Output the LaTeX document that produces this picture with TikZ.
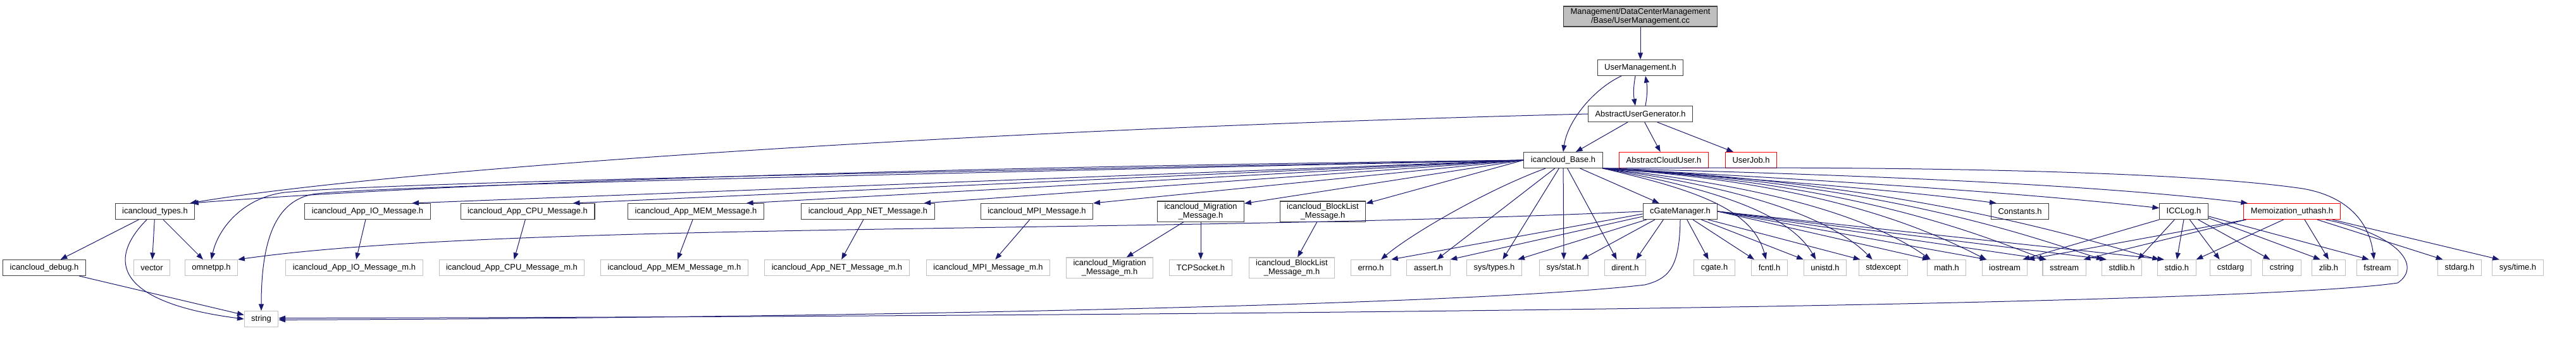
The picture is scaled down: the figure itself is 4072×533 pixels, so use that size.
\documentclass[tikz,border=0pt]{standalone}
\usepackage{fontspec}
\setmainfont{Liberation Sans}
\usetikzlibrary{arrows.meta,positioning}
\definecolor{edgeblue}{RGB}{25,25,112}
\definecolor{boxgray}{RGB}{64,64,64}
\definecolor{sysgray}{RGB}{191,191,191}
\definecolor{rootfill}{RGB}{191,191,191}

\begin{document}
\begin{tikzpicture}[x=0.75pt, y=-0.75pt,
    file/.style={draw, rectangle, font=\fontsize{9.7}{11}\selectfont, inner xsep=8.3pt, inner ysep=2pt, minimum height=18.75pt, align=center, text=black, line width=0.8pt},
    hdr/.style={file, draw=boxgray},
    sys/.style={file, draw=sysgray},
    ext/.style={file, draw=red},
    root/.style={hdr, fill=rootfill},
    dep/.style={edgeblue, line width=0.75pt, -{Triangle[length=8pt,width=6pt]}},
]
    \useasboundingbox (0,0) rectangle (4072,533);
    % Source file and the headers above icancloud_Base.h
    \node[root] (cc) at (2593,26) {Management/DataCenterManagement\\/Base/UserManagement.cc};
    \node[hdr] (um) at (2593,107) {UserManagement.h};
    \node[hdr] (aug) at (2593,180) {AbstractUserGenerator.h};
    \node[hdr] (base) at (2471,253) {icancloud\_Base.h};
    \node[ext] (acu) at (2630,253) {AbstractCloudUser.h};
    \node[ext] (job) at (2768,253) {UserJob.h};
    % Middle row
    \node[hdr] (types) at (245,334) {icancloud\_types.h};
    \node[hdr] (io) at (581,334) {icancloud\_App\_IO\_Message.h};
    \node[hdr] (cpu) at (834,334) {icancloud\_App\_CPU\_Message.h};
    \node[hdr] (mem) at (1100,334) {icancloud\_App\_MEM\_Message.h};
    \node[hdr] (net) at (1372,334) {icancloud\_App\_NET\_Message.h};
    \node[hdr] (mpi) at (1639,334) {icancloud\_MPI\_Message.h};
    \node[hdr] (mig) at (1898,334) {icancloud\_Migration\\\_Message.h};
    \node[hdr] (blk) at (2091,334) {icancloud\_BlockList\\\_Message.h};
    \node[hdr] (cgm) at (2656,334) {cGateManager.h};
    \node[hdr] (const) at (3193,334) {Constants.h};
    \node[hdr] (icc) at (3452,334) {ICCLog.h};
    \node[ext] (memo) at (3623,334) {Memoization\_uthash.h};
    % Bottom row
    \node[hdr] (debug) at (70,423) {icancloud\_debug.h};
    \foreach \n/\x/\t in {vector/240/vector, omnet/334/omnetpp.h,
        iom/560/{icancloud\_App\_IO\_Message\_m.h}, cpum/809/{icancloud\_App\_CPU\_Message\_m.h},
        memm/1066/{icancloud\_App\_MEM\_Message\_m.h}, netm/1323/{icancloud\_App\_NET\_Message\_m.h},
        mpim/1562/{icancloud\_MPI\_Message\_m.h}, migm/1754/{icancloud\_Migration\\\_Message\_m.h},
        tcp/1898/TCPSocket.h, blkm/2042/{icancloud\_BlockList\\\_Message\_m.h},
        errno/2167/errno.h, assert/2258/assert.h, systypes/2362/{sys/types.h},
        sysstat/2472/{sys/stat.h}, dirent/2569/dirent.h, cgate/2710/cgate.h,
        fcntl/2797/fcntl.h, unistd/2885/unistd.h, stdexcept/2977/stdexcept,
        math/3077/math.h, iostream/3169/iostream, sstream/3263/sstream,
        stdlib/3354/stdlib.h, stdio/3441/stdio.h, cstdarg/3526/cstdarg,
        cstring/3607/cstring, zlib/3681/zlib.h, fstream/3758/fstream,
        stdarg/3888/stdarg.h, systime/3980/{sys/time.h}}
        \node[sys] (\n) at (\x,423) {\t};
    \node[sys] (string) at (413,504) {string};

    % Upper part
    \draw[dep] (cc) -- (um);
    \draw[dep] ([xshift=-6pt]um.south) to[bend right=10] ([xshift=-6pt]aug.north);
    \draw[dep] ([xshift=6pt]aug.north) to[bend right=10] ([xshift=6pt]um.south);
    \draw[dep] ([xshift=-22.5pt]um.south) .. controls (2520,140) and (2478,190) .. (base.north);
    \draw[dep] ([xshift=-15pt]aug.south) -- ([xshift=15pt]base.north);
    \draw[dep] ([xshift=5pt]aug.south) -- ([xshift=-4pt]acu.north);
    \draw[dep] ([xshift=20pt]aug.south) -- ([xshift=-21pt]job.north);
    \draw[dep] (aug.west) .. controls (1500,205) and (600,270) .. ([xshift=-6pt]types.north east);

    % icancloud_Base.h to the left
    \draw[dep] (base.west) .. controls (1400,265) and (700,290) .. ([xshift=-4pt]types.north east);
    \draw[dep] (base.west) .. controls (1200,276) and (600,290) .. (450,304)
        .. controls (385,312) and (345,360) .. (omnet.north);
    \draw[dep] (base.west) .. controls (1200,280) and (620,294) .. (500,306)
        .. controls (440,314) and (413,370) .. (string.north);
    \draw[dep] (base.west) -- ([xshift=-22pt]io.north east);
    \draw[dep] (base.west) -- ([xshift=-26pt]cpu.north east);
    \draw[dep] (base.west) -- ([xshift=-21pt]mem.north east);
    \draw[dep] (base.west) -- ([xshift=-13pt]net.north east);
    \draw[dep] (base.west) -- (mpi.north east);
    \draw[dep] (base.west) -- ([yshift=-3pt]mig.north east);
    \draw[dep] (base.west) -- ([yshift=-3pt]blk.north east);
    % icancloud_Base.h downwards
    \draw[dep] ([xshift=-21pt]base.south) .. controls (2350,300) and (2230,370) .. ([xshift=12pt]errno.north);
    \draw[dep] ([xshift=-10pt]base.south) -- ([xshift=10pt]assert.north);
    \draw[dep] ([xshift=-5pt]base.south) -- ([xshift=10pt]systypes.north);
    \draw[dep] (base) -- (sysstat);
    \draw[dep] ([xshift=5pt]base.south) -- ([xshift=-10pt]dirent.north);
    \draw[dep] ([xshift=20pt]base.south) -- ([xshift=-25pt]cgm.north);
    % icancloud_Base.h to the right
    \draw[dep] (base.south east) .. controls (2680,300) and (2770,330) .. ([xshift=-4pt]fcntl.north);
    \draw[dep] (base.south east) .. controls (2720,300) and (2830,340) .. ([xshift=-11pt]unistd.north);
    \draw[dep] (base.south east) .. controls (2780,300) and (2900,350) .. ([xshift=-13pt]stdexcept.north);
    \draw[dep] (base.south east) .. controls (2850,300) and (2980,360) .. ([xshift=-19pt]math.north);
    \draw[dep] (base.south east) .. controls (2900,290) and (3060,370) .. ([xshift=-22pt]iostream.north);
    \draw[dep] (base.south east) .. controls (2950,290) and (3150,380) .. ([xshift=-22pt]sstream.north);
    \draw[dep] (base.south east) .. controls (3000,290) and (3240,385) .. ([xshift=-22pt]stdlib.north);
    \draw[dep] (base.south east) .. controls (3050,290) and (3330,390) .. ([xshift=-21pt]stdio.north);
    \draw[dep] (base.south east) .. controls (2800,285) and (3000,300) .. ([xshift=-28pt]const.north);
    \draw[dep] (base.south east) .. controls (2900,285) and (3200,305) .. ([yshift=4pt]icc.west);
    \draw[dep] (base.south east) .. controls (2900,275) and (3300,290) .. ([xshift=5pt]memo.north west);
    \draw[dep] (base.south east) .. controls (3000,262) and (3450,270) .. (3640,298)
        .. controls (3710,310) and (3745,350) .. ([xshift=-4pt]fstream.north);

    % icancloud_types.h
    \draw[dep] (types) -- (debug);
    \draw[dep] ([xshift=-9.75pt]types.south) .. controls (160,420) and (200,480) .. (string.west);
    \draw[dep] (types) -- (vector);
    \draw[dep] (types) -- (omnet);
    \draw[dep] (debug) -- (string);

    % message headers
    \draw[dep] (io) -- (iom);
    \draw[dep] (cpu) -- (cpum);
    \draw[dep] (mem) -- (memm);
    \draw[dep] (net) -- (netm);
    \draw[dep] (mpi) -- (mpim);
    \draw[dep] (mig) -- (migm);
    \draw[dep] (mig) -- (tcp);
    \draw[dep] (blk) -- (blkm);

    % cGateManager.h
    \draw[dep] (cgm.west) .. controls (1800,370) and (800,350) .. (omnet.north east);
    \draw[dep] ([yshift=-3pt]cgm.west) -- (errno.north east);
    \draw[dep] ([yshift=-6pt]cgm.west) -- (assert.north east);
    \draw[dep] ([xshift=-40pt]cgm.south) -- ([xshift=-5pt]systypes.north east);
    \draw[dep] ([xshift=-30pt]cgm.south) -- ([xshift=-8pt]sysstat.north east);
    \draw[dep] ([xshift=-20pt]cgm.south) -- ([xshift=-12pt]dirent.north east);
    \draw[dep] ([xshift=8pt]cgm.south) -- ([xshift=-7pt]cgate.north);
    \draw[dep] ([xshift=15pt]cgm.south) -- ([xshift=-18pt]fcntl.north);
    \draw[dep] ([xshift=25pt]cgm.south) -- (unistd.north west);
    \draw[dep] ([xshift=33pt]cgm.south) -- ([xshift=2pt]stdexcept.north west);
    \foreach \t/\s in {math/3, iostream/6, sstream/5, stdlib/6, stdio/8}
        \draw[dep] (cgm.east) -- ([xshift=\s pt]\t.north west);
    \draw[dep] (cgm.south) .. controls (2655,420) and (2640,440) .. (2600,450)
        .. controls (2300,485) and (1200,503) .. ([yshift=-1pt]string.east);

    % ICCLog.h
    \draw[dep] (icc.south west) -- ([xshift=-6pt]iostream.north east);
    \draw[dep] ([xshift=-11pt]icc.south) -- ([xshift=-5pt]stdlib.north east);
    \draw[dep] (icc.south) -- (stdio.north);
    \draw[dep] ([xshift=7pt]icc.south) -- ([xshift=-13pt]cstdarg.north);
    \draw[dep] ([xshift=17pt]icc.south) -- ([xshift=-14pt]cstring.north);
    \draw[dep] ([yshift=2pt]icc.south east) -- ([xshift=-10pt]zlib.north);
    \draw[dep] ([yshift=4pt]icc.south east) -- ([xshift=-10pt]fstream.north);

    % Memoization_uthash.h
    \draw[dep] ([xshift=3pt]memo.south west) -- (iostream.north east);
    \draw[dep] ([xshift=3pt]memo.south west) -- ([xshift=-3pt]sstream.north east);
    \draw[dep] ([xshift=-10pt]memo.south) -- (stdio.north east);
    \draw[dep] ([xshift=15pt]memo.south) -- (zlib.north);
    \draw[dep] ([xshift=30pt]memo.south) -- ([xshift=-20pt]stdarg.north);
    \draw[dep] ([xshift=48pt]memo.south) -- ([xshift=-22pt]systime.north);
    \draw[dep] ([xshift=40pt]memo.south) .. controls (3790,370) and (3830,420) .. (3790,447)
        .. controls (3600,475) and (2500,498) .. ([yshift=1pt]string.east);
\end{tikzpicture}
\end{document}
